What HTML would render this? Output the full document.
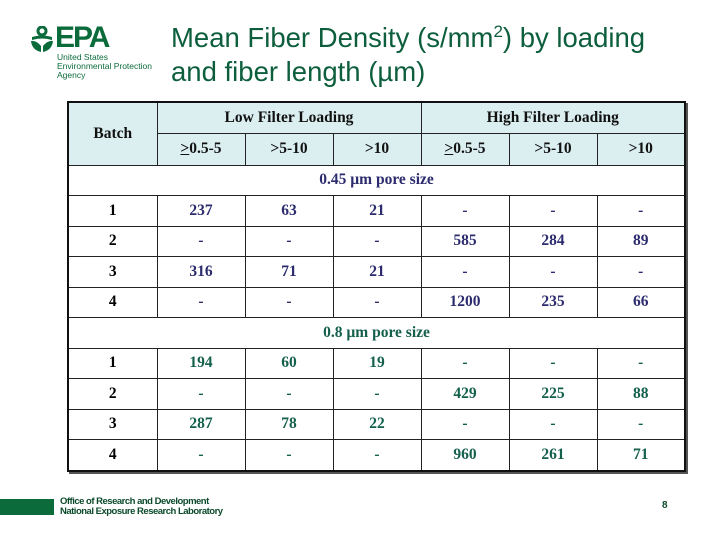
<!DOCTYPE html>
<html><head><style>
body{margin:0;width:720px;height:540px;background:#fff;position:relative;overflow:hidden;font-family:"Liberation Sans",sans-serif}
.t{position:absolute;left:171px;font-size:27.5px;color:#0d5e3c;line-height:32px}
table{position:absolute;left:67px;top:101px;border-collapse:collapse;font-family:"Liberation Serif",serif;font-weight:bold;font-size:15.5px;box-shadow:2px 2px 0 #555;table-layout:fixed;width:617px}
td{border:1.5px solid #222;text-align:center;padding:0;height:29.5px}
table{border:2.5px solid #111}
.h{background:#dbeef0;color:#111}
.b td.n{color:#2b2b6e}
.g td.n{color:#14604c}
.sec1{color:#2b2b6e}
.sec2{color:#14604c}
</style></head><body>
<svg style="position:absolute;left:30px;top:26px" width="30" height="28" viewBox="0 0 30 28">
<circle cx="12" cy="5" r="4" fill="none" stroke="#0b6b3a" stroke-width="3"/>
<path d="M2 11 Q12 8 22 11 L22 14 Q12 11 2 14Z" fill="#0b6b3a"/>
<path d="M1 15 Q6 14 11 20 L11 26 Q2 24 1 15Z" fill="#0b6b3a"/>
<path d="M23 15 Q18 14 13 20 L13 26 Q22 24 23 15Z" fill="#0b6b3a"/>
</svg>
<div style="position:absolute;left:55px;top:22px;font-size:30px;font-weight:bold;color:#0b6b3a;letter-spacing:-2px;line-height:32px">EPA</div>
<div style="position:absolute;left:57px;top:53px;font-size:8.5px;color:#0b6b3a;line-height:9px">United States<br>Environmental Protection<br>Agency</div>
<div class="t" style="top:22px">Mean Fiber Density (s/mm<sup style="font-size:17px;line-height:0">2</sup>) by loading</div>
<div class="t" style="top:56px">and fiber length (µm)</div>
<table>
<colgroup><col style="width:89px"><col style="width:88px"><col style="width:88px"><col style="width:88px"><col style="width:88px"><col style="width:88px"><col style="width:88px"></colgroup>
<tr class="h"><td rowspan="2">Batch</td><td colspan="3">Low Filter Loading</td><td colspan="3">High Filter Loading</td></tr>
<tr class="h" style="height:32px"><td><u>&gt;</u>0.5-5</td><td>&gt;5-10</td><td>&gt;10</td><td><u>&gt;</u>0.5-5</td><td>&gt;5-10</td><td>&gt;10</td></tr>
<tr><td colspan="7" class="sec1">0.45 µm pore size</td></tr>
<tbody class="b">
<tr><td>1</td><td class="n">237</td><td class="n">63</td><td class="n">21</td><td class="n">-</td><td class="n">-</td><td class="n">-</td></tr>
<tr><td>2</td><td class="n">-</td><td class="n">-</td><td class="n">-</td><td class="n">585</td><td class="n">284</td><td class="n">89</td></tr>
<tr><td>3</td><td class="n">316</td><td class="n">71</td><td class="n">21</td><td class="n">-</td><td class="n">-</td><td class="n">-</td></tr>
<tr><td>4</td><td class="n">-</td><td class="n">-</td><td class="n">-</td><td class="n">1200</td><td class="n">235</td><td class="n">66</td></tr>
</tbody>
<tr><td colspan="7" class="sec2">0.8 µm pore size</td></tr>
<tbody class="g">
<tr><td>1</td><td class="n">194</td><td class="n">60</td><td class="n">19</td><td class="n">-</td><td class="n">-</td><td class="n">-</td></tr>
<tr><td>2</td><td class="n">-</td><td class="n">-</td><td class="n">-</td><td class="n">429</td><td class="n">225</td><td class="n">88</td></tr>
<tr><td>3</td><td class="n">287</td><td class="n">78</td><td class="n">22</td><td class="n">-</td><td class="n">-</td><td class="n">-</td></tr>
<tr><td>4</td><td class="n">-</td><td class="n">-</td><td class="n">-</td><td class="n">960</td><td class="n">261</td><td class="n">71</td></tr>
</tbody>
</table>
<div style="position:absolute;left:0;top:499px;width:54px;height:16px;background:#0b6b3a"></div>
<div style="position:absolute;left:60px;top:497px;font-size:9.5px;font-weight:bold;line-height:10px;color:#0b4a2a;letter-spacing:-0.5px">Office of Research and Development<br>National Exposure Research Laboratory</div>
<div style="position:absolute;left:662px;top:500px;font-size:10px;font-weight:bold;color:#0b4a2a">8</div>
</body></html>
